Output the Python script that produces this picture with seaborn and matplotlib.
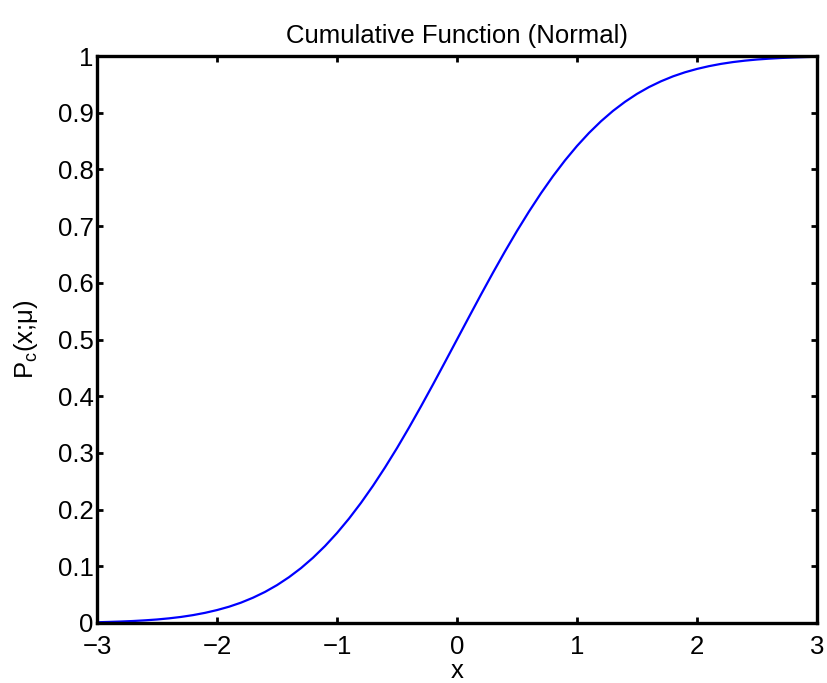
import matplotlib
matplotlib.use("Agg")
import matplotlib.pyplot as plt
import seaborn as sns
import pandas as pd
from matplotlib.ticker import FixedLocator, FixedFormatter

x_vals = [-3.0, -2.9, -2.8, -2.7, -2.6, -2.5, -2.4, -2.3, -2.2, -2.1,
          -2.0, -1.9, -1.8, -1.7, -1.6, -1.5, -1.4, -1.3, -1.2, -1.1,
          -1.0, -0.9, -0.8, -0.7, -0.6, -0.5, -0.4, -0.3, -0.2, -0.1,
          0.0, 0.1, 0.2, 0.3, 0.4, 0.5, 0.6, 0.7, 0.8, 0.9,
          1.0, 1.1, 1.2, 1.3, 1.4, 1.5, 1.6, 1.7, 1.8, 1.9,
          2.0, 2.1, 2.2, 2.3, 2.4, 2.5, 2.6, 2.7, 2.8, 2.9, 3.0]
p_vals = [0.0013, 0.0019, 0.0026, 0.0035, 0.0047, 0.0062, 0.0082, 0.0107, 0.0139, 0.0179,
          0.0228, 0.0287, 0.0359, 0.0446, 0.0548, 0.0668, 0.0808, 0.0968, 0.1151, 0.1357,
          0.1587, 0.1841, 0.2119, 0.2420, 0.2743, 0.3085, 0.3446, 0.3821, 0.4207, 0.4602,
          0.5000, 0.5398, 0.5793, 0.6179, 0.6554, 0.6915, 0.7257, 0.7580, 0.7881, 0.8159,
          0.8413, 0.8643, 0.8849, 0.9032, 0.9192, 0.9332, 0.9452, 0.9554, 0.9641, 0.9713,
          0.9772, 0.9821, 0.9861, 0.9893, 0.9918, 0.9938, 0.9953, 0.9965, 0.9974, 0.9981, 0.9987]

x_ticks = [-3, -2, -1, 0, 1, 2, 3]
x_tick_labels = ["\u22123", "\u22122", "\u22121", "0", "1", "2", "3"]
y_ticks = [0, 0.1, 0.2, 0.3, 0.4, 0.5, 0.6, 0.7, 0.8, 0.9, 1.0]
y_tick_labels = ["0", "0.1", "0.2", "0.3", "0.4", "0.5", "0.6", "0.7", "0.8", "0.9", "1"]

sns.set_style("ticks")
plt.rcParams['font.family'] = ['Liberation Sans', 'DejaVu Sans']
plt.rcParams['mathtext.fontset'] = 'custom'
plt.rcParams['mathtext.rm'] = 'Liberation Sans'
plt.rcParams['text.color'] = 'black'
plt.rcParams['axes.labelcolor'] = 'black'

FS = 18.5

fig = plt.figure(figsize=(8.28, 6.83), dpi=100)
ax = fig.add_axes([97/828, 1-623/683, (817-97)/828, (623-56)/683])

df = pd.DataFrame({"x": x_vals, "p": p_vals})
sns.lineplot(data=df, x="x", y="p", ax=ax, color=(0, 0, 1), linewidth=1.6, estimator=None)

ax.set_xlim(-3, 3)
ax.set_ylim(0, 1)
ax.xaxis.set_major_locator(FixedLocator(x_ticks))
ax.xaxis.set_major_formatter(FixedFormatter(x_tick_labels))
ax.yaxis.set_major_locator(FixedLocator(y_ticks))
ax.yaxis.set_major_formatter(FixedFormatter(y_tick_labels))

for s in ax.spines.values():
    s.set_linewidth(2.4)
    s.set_color('black')
    s.set_visible(True)

ax.tick_params(axis='both', which='major', direction='in', length=4, width=2,
               top=True, right=True, labelsize=FS, colors='black')
ax.tick_params(axis='x', pad=9)
ax.tick_params(axis='y', pad=2.5)

ax.set_title("Cumulative Function (Normal)", fontsize=FS, pad=9, color='black')
ax.set_xlabel("x", fontsize=FS, labelpad=0, color='black')
ax.set_ylabel("P$_\\mathregular{c}$(x;\u03bc)", fontsize=FS, labelpad=13, color='black')

fig.savefig("out.png", dpi=100)
